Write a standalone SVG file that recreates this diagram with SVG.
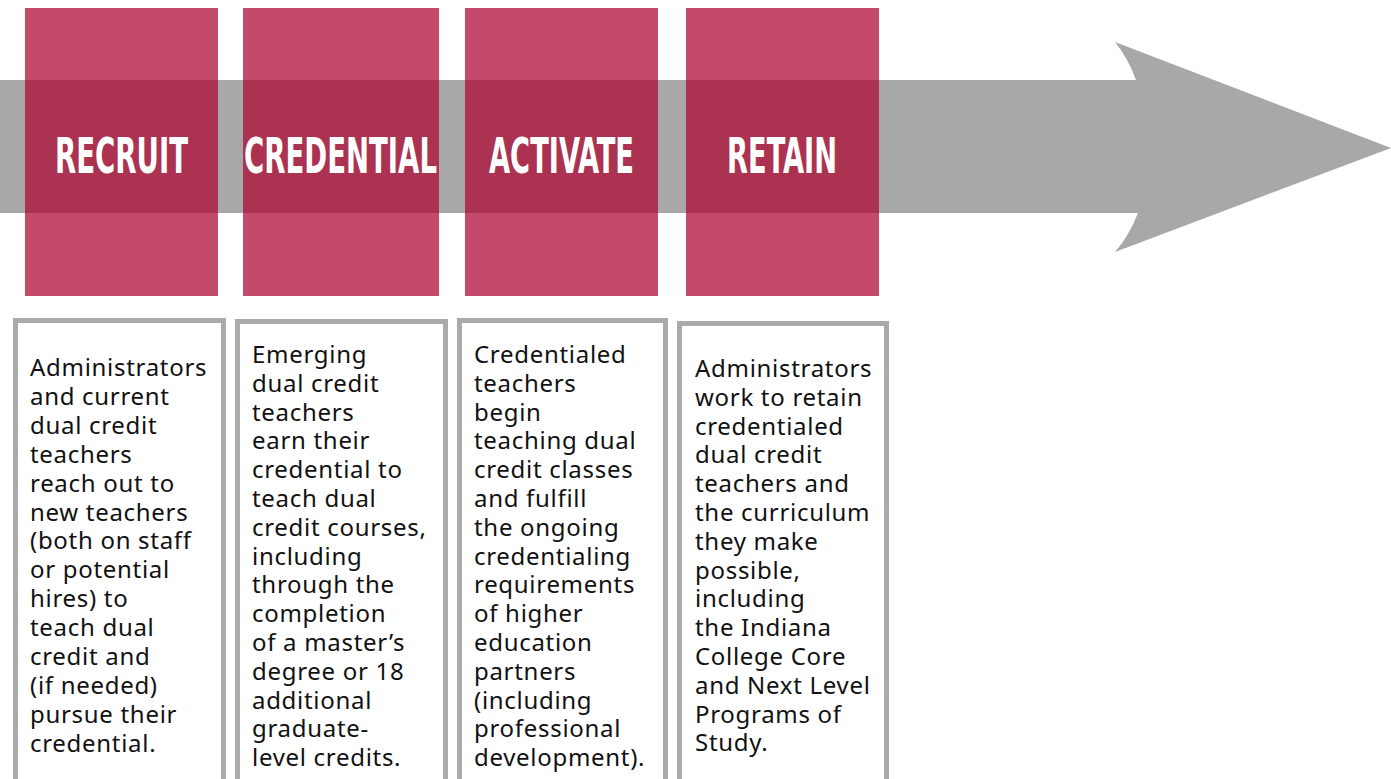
<svg xmlns="http://www.w3.org/2000/svg" width="1391" height="779" viewBox="0 0 1391 779">
<style>
.band{fill:#a8a8a8}
.stage{fill:#ae0731;fill-opacity:0.73}
.title{font-family:"DejaVu Sans",sans-serif;font-weight:bold;font-stretch:condensed;font-size:50px;fill:#fff}
.card{fill:#fff;stroke:#aaaaaa;stroke-width:5}
.body{font-family:"Noto Sans",sans-serif;font-size:24px;fill:#111;letter-spacing:0.7px}
</style>
<rect width="1391" height="779" fill="#fff"/>
<g id="connectors">
<path class="band" d="M0,80 H1136 Q1128,58 1115,42 L1391,148 L1115,252 Q1129,236 1138,213 H0 Z"/>
</g>
<g id="recruit">
<rect class="stage" x="25" y="8" width="193" height="288"/>
<text class="title" x="55" y="173" textLength="133" lengthAdjust="spacingAndGlyphs">RECRUIT</text>
</g>
<g id="credential">
<rect class="stage" x="243" y="8" width="196" height="288"/>
<text class="title" x="244" y="173" textLength="193" lengthAdjust="spacingAndGlyphs">CREDENTIAL</text>
</g>
<g id="activate">
<rect class="stage" x="465" y="8" width="193" height="288"/>
<text class="title" x="489" y="173" textLength="145" lengthAdjust="spacingAndGlyphs">ACTIVATE</text>
</g>
<g id="retain">
<rect class="stage" x="686" y="8" width="193" height="288"/>
<text class="title" x="727" y="173" textLength="110" lengthAdjust="spacingAndGlyphs">RETAIN</text>
</g>
<g id="recruit-desc">
<rect class="card" x="15.5" y="320.5" width="208" height="480"/>
<text class="body" x="30" y="376">
<tspan x="30">Administrators</tspan>
<tspan x="30" dy="28.9">and current</tspan>
<tspan x="30" dy="28.9">dual credit</tspan>
<tspan x="30" dy="28.9">teachers</tspan>
<tspan x="30" dy="28.9">reach out to</tspan>
<tspan x="30" dy="28.9">new teachers</tspan>
<tspan x="30" dy="28.9">(both on staff</tspan>
<tspan x="30" dy="28.9">or potential</tspan>
<tspan x="30" dy="28.9">hires) to</tspan>
<tspan x="30" dy="28.9">teach dual</tspan>
<tspan x="30" dy="28.9">credit and</tspan>
<tspan x="30" dy="28.9">(if needed)</tspan>
<tspan x="30" dy="28.9">pursue their</tspan>
<tspan x="30" dy="28.9">credential.</tspan>
</text>
</g>
<g id="credential-desc">
<rect class="card" x="237.5" y="321.5" width="208" height="480"/>
<text class="body" x="252" y="363">
<tspan x="252">Emerging</tspan>
<tspan x="252" dy="28.8">dual credit</tspan>
<tspan x="252" dy="28.8">teachers</tspan>
<tspan x="252" dy="28.8">earn their</tspan>
<tspan x="252" dy="28.8">credential to</tspan>
<tspan x="252" dy="28.8">teach dual</tspan>
<tspan x="252" dy="28.8">credit courses,</tspan>
<tspan x="252" dy="28.8">including</tspan>
<tspan x="252" dy="28.8">through the</tspan>
<tspan x="252" dy="28.8">completion</tspan>
<tspan x="252" dy="28.8">of a master’s</tspan>
<tspan x="252" dy="28.8">degree or 18</tspan>
<tspan x="252" dy="28.8">additional</tspan>
<tspan x="252" dy="28.8">graduate-</tspan>
<tspan x="252" dy="28.8">level credits.</tspan>
</text>
</g>
<g id="activate-desc">
<rect class="card" x="459.5" y="320.5" width="206" height="480"/>
<text class="body" x="474" y="363">
<tspan x="474">Credentialed</tspan>
<tspan x="474" dy="28.8">teachers</tspan>
<tspan x="474" dy="28.8">begin</tspan>
<tspan x="474" dy="28.8">teaching dual</tspan>
<tspan x="474" dy="28.8">credit classes</tspan>
<tspan x="474" dy="28.8">and fulfill</tspan>
<tspan x="474" dy="28.8">the ongoing</tspan>
<tspan x="474" dy="28.8">credentialing</tspan>
<tspan x="474" dy="28.8">requirements</tspan>
<tspan x="474" dy="28.8">of higher</tspan>
<tspan x="474" dy="28.8">education</tspan>
<tspan x="474" dy="28.8">partners</tspan>
<tspan x="474" dy="28.8">(including</tspan>
<tspan x="474" dy="28.8">professional</tspan>
<tspan x="474" dy="28.8">development).</tspan>
</text>
</g>
<g id="retain-desc">
<rect class="card" x="679.5" y="323.5" width="207" height="480"/>
<text class="body" x="695" y="377">
<tspan x="695">Administrators</tspan>
<tspan x="695" dy="28.8">work to retain</tspan>
<tspan x="695" dy="28.8">credentialed</tspan>
<tspan x="695" dy="28.8">dual credit</tspan>
<tspan x="695" dy="28.8">teachers and</tspan>
<tspan x="695" dy="28.8">the curriculum</tspan>
<tspan x="695" dy="28.8">they make</tspan>
<tspan x="695" dy="28.8">possible,</tspan>
<tspan x="695" dy="28.8">including</tspan>
<tspan x="695" dy="28.8">the Indiana</tspan>
<tspan x="695" dy="28.8">College Core</tspan>
<tspan x="695" dy="28.8">and Next Level</tspan>
<tspan x="695" dy="28.8">Programs of</tspan>
<tspan x="695" dy="28.8">Study.</tspan>
</text>
</g>
</svg>
